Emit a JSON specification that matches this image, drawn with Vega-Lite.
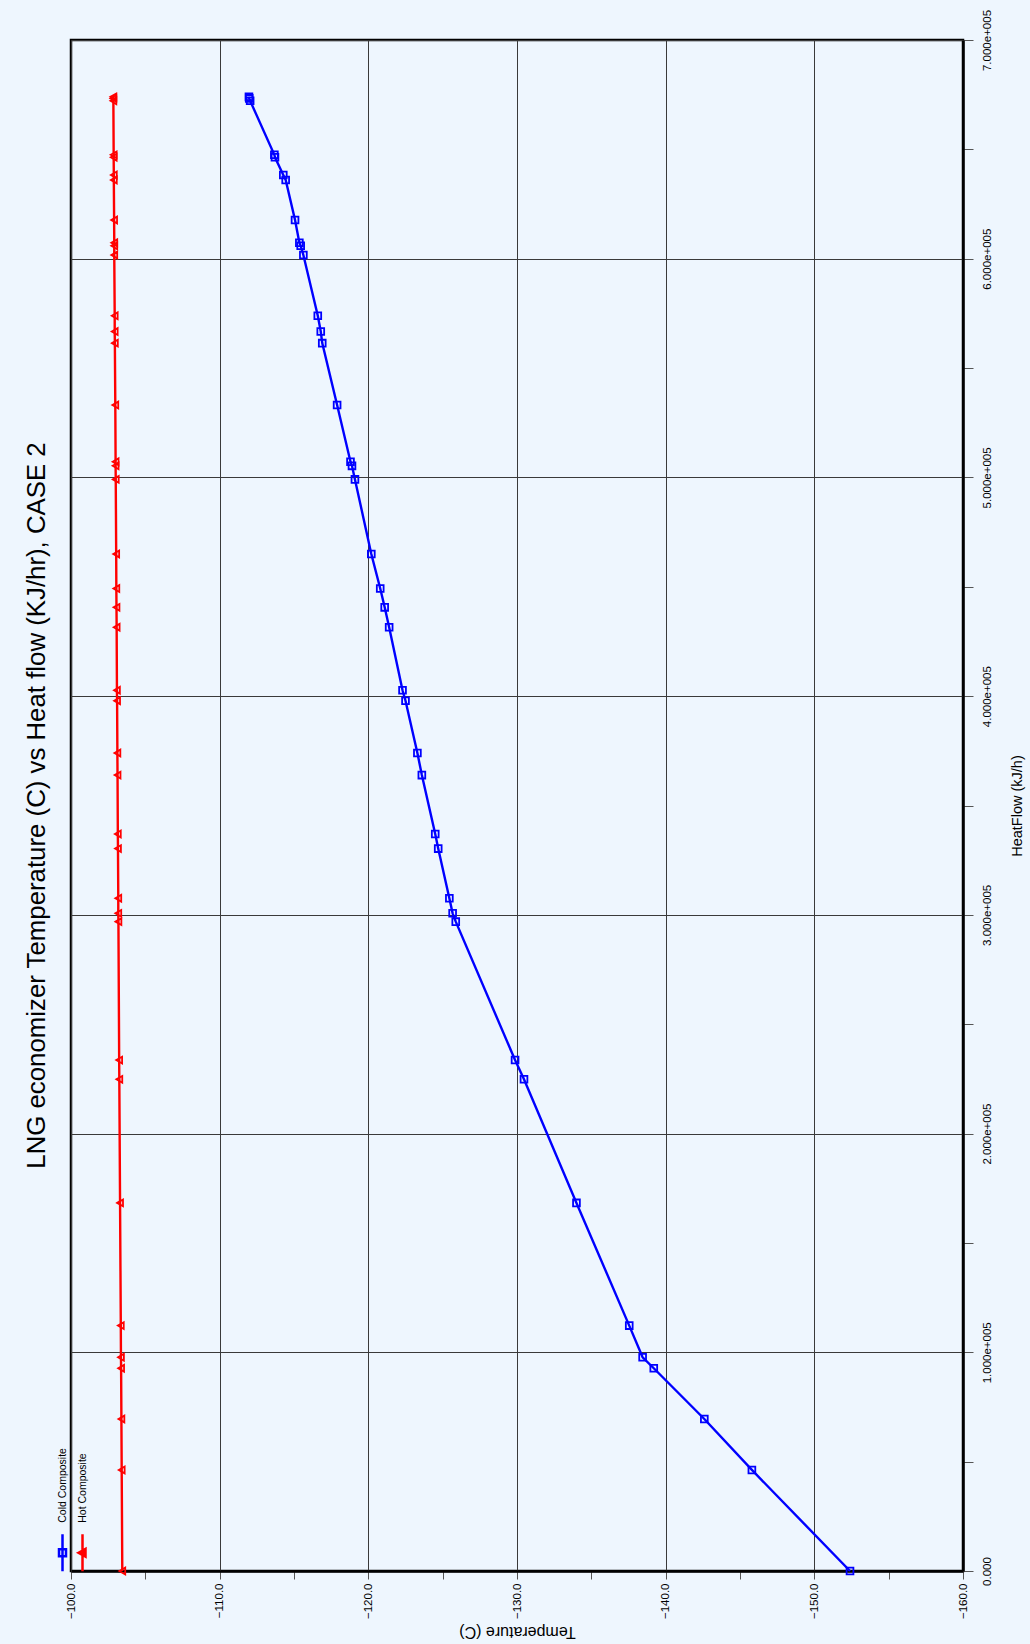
{
  "$schema": "https://vega.github.io/schema/vega-lite/v6.json",
  "width": 892,
  "height": 1531,
  "autosize": {"type": "none"},
  "padding": {"left": 71, "top": 40, "right": 67, "bottom": 73},
  "background": "#eef6fe",
  "title": {
    "text": "LNG economizer Temperature (C) vs Heat flow (KJ/hr), CASE 2",
    "orient": "left",
    "anchor": "middle",
    "font": "Liberation Sans",
    "fontSize": 25.8,
    "fontWeight": "normal",
    "color": "#000000",
    "offset": 0
  },
  "config": {
    "view": {"stroke": "#000000", "strokeWidth": 2.5, "fill": "#eef6fe"},
    "axis": {
      "labelFont": "Liberation Sans",
      "titleFont": "Liberation Sans",
      "labelColor": "#000000",
      "titleColor": "#000000",
      "titleFontWeight": "normal",
      "domainColor": "#000000",
      "domainWidth": 2.5,
      "tickColor": "#555555",
      "gridWidth": 1,
      "labelOverlap": false,
      "labelFlush": false
    }
  },
  "data": {
    "values": [
      {"s": "Cold Composite", "q": 0, "t": -152.4},
      {"s": "Cold Composite", "q": 46200, "t": -145.8},
      {"s": "Cold Composite", "q": 69500, "t": -142.6},
      {"s": "Cold Composite", "q": 92700, "t": -139.2},
      {"s": "Cold Composite", "q": 97700, "t": -138.45},
      {"s": "Cold Composite", "q": 112200, "t": -137.55},
      {"s": "Cold Composite", "q": 168300, "t": -134.0},
      {"s": "Cold Composite", "q": 224800, "t": -130.47},
      {"s": "Cold Composite", "q": 233600, "t": -129.87},
      {"s": "Cold Composite", "q": 296900, "t": -125.88},
      {"s": "Cold Composite", "q": 300700, "t": -125.67},
      {"s": "Cold Composite", "q": 307600, "t": -125.45},
      {"s": "Cold Composite", "q": 330300, "t": -124.7},
      {"s": "Cold Composite", "q": 337000, "t": -124.5},
      {"s": "Cold Composite", "q": 363900, "t": -123.6},
      {"s": "Cold Composite", "q": 374000, "t": -123.3},
      {"s": "Cold Composite", "q": 397900, "t": -122.5},
      {"s": "Cold Composite", "q": 402700, "t": -122.3},
      {"s": "Cold Composite", "q": 431500, "t": -121.4},
      {"s": "Cold Composite", "q": 440600, "t": -121.1},
      {"s": "Cold Composite", "q": 449200, "t": -120.8},
      {"s": "Cold Composite", "q": 465000, "t": -120.2},
      {"s": "Cold Composite", "q": 499100, "t": -119.1},
      {"s": "Cold Composite", "q": 505300, "t": -118.9},
      {"s": "Cold Composite", "q": 507200, "t": -118.8},
      {"s": "Cold Composite", "q": 533100, "t": -117.9},
      {"s": "Cold Composite", "q": 561400, "t": -116.9},
      {"s": "Cold Composite", "q": 566700, "t": -116.8},
      {"s": "Cold Composite", "q": 573900, "t": -116.6},
      {"s": "Cold Composite", "q": 601700, "t": -115.63},
      {"s": "Cold Composite", "q": 605900, "t": -115.45},
      {"s": "Cold Composite", "q": 607300, "t": -115.36},
      {"s": "Cold Composite", "q": 617700, "t": -115.07},
      {"s": "Cold Composite", "q": 636000, "t": -114.44},
      {"s": "Cold Composite", "q": 638300, "t": -114.28},
      {"s": "Cold Composite", "q": 646400, "t": -113.72},
      {"s": "Cold Composite", "q": 647500, "t": -113.68},
      {"s": "Cold Composite", "q": 672200, "t": -112.05},
      {"s": "Cold Composite", "q": 673300, "t": -111.99},
      {"s": "Cold Composite", "q": 674000, "t": -111.97},
      {"s": "Hot Composite", "q": 0, "t": -103.45},
      {"s": "Hot Composite", "q": 46200, "t": -103.41},
      {"s": "Hot Composite", "q": 69500, "t": -103.39},
      {"s": "Hot Composite", "q": 92700, "t": -103.37},
      {"s": "Hot Composite", "q": 97700, "t": -103.36},
      {"s": "Hot Composite", "q": 112200, "t": -103.35},
      {"s": "Hot Composite", "q": 168300, "t": -103.3},
      {"s": "Hot Composite", "q": 224800, "t": -103.25},
      {"s": "Hot Composite", "q": 233600, "t": -103.24},
      {"s": "Hot Composite", "q": 296900, "t": -103.19},
      {"s": "Hot Composite", "q": 300700, "t": -103.18},
      {"s": "Hot Composite", "q": 307600, "t": -103.18},
      {"s": "Hot Composite", "q": 330300, "t": -103.16},
      {"s": "Hot Composite", "q": 337000, "t": -103.15},
      {"s": "Hot Composite", "q": 363900, "t": -103.13},
      {"s": "Hot Composite", "q": 374000, "t": -103.12},
      {"s": "Hot Composite", "q": 397900, "t": -103.1},
      {"s": "Hot Composite", "q": 402700, "t": -103.09},
      {"s": "Hot Composite", "q": 431500, "t": -103.07},
      {"s": "Hot Composite", "q": 440600, "t": -103.06},
      {"s": "Hot Composite", "q": 449200, "t": -103.05},
      {"s": "Hot Composite", "q": 465000, "t": -103.04},
      {"s": "Hot Composite", "q": 499100, "t": -103.01},
      {"s": "Hot Composite", "q": 505300, "t": -103.0},
      {"s": "Hot Composite", "q": 507200, "t": -103.0},
      {"s": "Hot Composite", "q": 533100, "t": -102.98},
      {"s": "Hot Composite", "q": 561400, "t": -102.95},
      {"s": "Hot Composite", "q": 566700, "t": -102.94},
      {"s": "Hot Composite", "q": 573900, "t": -102.94},
      {"s": "Hot Composite", "q": 601700, "t": -102.91},
      {"s": "Hot Composite", "q": 605900, "t": -102.91},
      {"s": "Hot Composite", "q": 607300, "t": -102.91},
      {"s": "Hot Composite", "q": 617700, "t": -102.9},
      {"s": "Hot Composite", "q": 636000, "t": -102.88},
      {"s": "Hot Composite", "q": 638300, "t": -102.88},
      {"s": "Hot Composite", "q": 646400, "t": -102.87},
      {"s": "Hot Composite", "q": 647500, "t": -102.87},
      {"s": "Hot Composite", "q": 672200, "t": -102.85},
      {"s": "Hot Composite", "q": 673300, "t": -102.85},
      {"s": "Hot Composite", "q": 674000, "t": -102.85}
    ]
  },
  "encoding": {
    "x": {
      "field": "t",
      "type": "quantitative",
      "scale": {"domain": [-160, -100], "reverse": true, "nice": false, "zero": false},
      "axis": {
        "orient": "bottom",
        "title": "Temperature (C)",
        "titleFontSize": 16,
        "titleAngle": 180,
        "titleBaseline": "middle",
        "titleY": 60,
        "values": [-100, -105, -110, -115, -120, -125, -130, -135, -140, -145, -150, -155, -160],
        "labelExpr": "datum.value % 10 === 0 ? format(datum.value, '.1f') : ''",
        "labelAngle": -90,
        "labelAlign": "right",
        "labelBaseline": "middle",
        "labelFontSize": 11.5,
        "labelPadding": 4,
        "tickSize": 8,
        "grid": true,
        "gridColor": {"condition": {"test": "datum.value % 10 === 0", "value": "#3a3a3a"}, "value": "transparent"}
      }
    },
    "y": {
      "field": "q",
      "type": "quantitative",
      "scale": {"domain": [0, 700000], "nice": false, "zero": false},
      "axis": {
        "orient": "right",
        "title": "HeatFlow (kJ/h)",
        "titleFontSize": 14.5,
        "titleAngle": 270,
        "titleBaseline": "top",
        "titlePadding": 18,
        "values": [0, 50000, 100000, 150000, 200000, 250000, 300000, 350000, 400000, 450000, 500000, 550000, 600000, 650000, 700000],
        "labelExpr": "datum.value === 0 ? '0.000' : (datum.value % 100000 === 0 ? format(datum.value / 100000, '.3f') + 'e+005' : '')",
        "labelAngle": -90,
        "labelAlign": "center",
        "labelBaseline": "top",
        "labelFontSize": 11.5,
        "labelPadding": 8,
        "tickSize": 10,
        "grid": true,
        "gridColor": {"condition": {"test": "datum.value % 100000 === 0", "value": "#3a3a3a"}, "value": "transparent"}
      }
    },
    "color": {
      "field": "s",
      "type": "nominal",
      "scale": {"domain": ["Cold Composite", "Hot Composite"], "range": ["#0000ff", "#ff0000"]},
      "legend": {
        "title": null,
        "orient": "none",
        "direction": "horizontal",
        "legendX": -20,
        "legendY": 1501,
        "padding": 0,
        "symbolSize": 400,
        "symbolStrokeWidth": 2.5,
        "labelFont": "Liberation Sans",
        "labelFontSize": 10.5,
        "labelColor": "#000000",
        "labelOffset": 0,
        "columnPadding": 0,
        "encode": {
          "symbols": {
            "update": {
              "shape": {"signal": "datum.value === 'Cold Composite' ? 'M0,-10M0,10M0,-1.85L0,1.85M-0.35,-0.35L0.35,-0.35L0.35,0.35L-0.35,0.35Z' : 'M0,-10M0,10M0,-1.85L0,1.85M-0.4,0L0.3,-0.38L0.3,0.38Z'"},
              "size": {"value": 400},
              "stroke": {"signal": "datum.value === 'Cold Composite' ? '#0000ff' : '#ff0000'"},
              "fill": {"signal": "datum.value === 'Cold Composite' ? 'transparent' : '#ff0000'"},
              "strokeWidth": {"value": 2.5},
              "opacity": {"value": 1}
            }
          },
          "labels": {
            "update": {
              "angle": {"value": -90},
              "align": {"value": "left"},
              "baseline": {"value": "middle"},
              "dx": {"value": 30},
              "dy": {"value": -11.5}
            }
          }
        }
      }
    }
  },
  "layer": [
    {
      "mark": {"type": "line", "strokeWidth": 2.4},
      "encoding": {"order": {"field": "q", "type": "quantitative"}}
    },
    {
      "mark": {"type": "point", "filled": false, "strokeWidth": 1.8, "size": 46, "opacity": 1},
      "encoding": {
        "shape": {
          "condition": {"test": "datum.s === 'Cold Composite'", "value": "square"},
          "value": "triangle-left"
        }
      }
    }
  ]
}
